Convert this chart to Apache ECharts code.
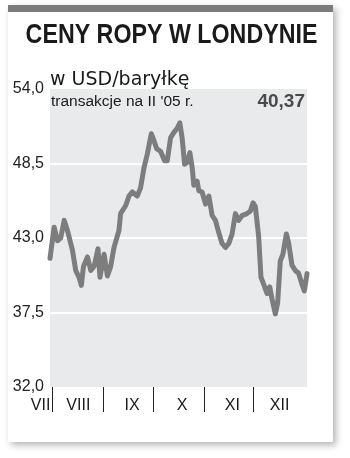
<!DOCTYPE html>
<html><head><meta charset="utf-8">
<script src="https://cdn.jsdelivr.net/npm/echarts@6/dist/echarts.min.js"></script>
<style>html,body{margin:0;padding:0;background:#fff}#c{width:350px;height:458px}</style>
</head><body><div id="c"></div>
<script>
// days counted from 1 August (month starts below)
const days = [-1.5, 1.0, 3.0, 5.0, 7.1, 9.1, 12.1, 14.1, 16.1, 17.5, 18.8, 21.2, 23.2, 25.2, 27.6, 28.8, 31.3, 33.3, 35.3, 37.3,
  40.3, 41.3, 44.4, 46.4, 48.4, 51.4, 53.4, 55.5, 57.5, 59.9, 61.5, 63.1, 65.5, 68.0, 69.6, 71.6, 73.6, 75.6, 77.2, 78.6,
  80.1, 81.7, 83.3, 84.7, 85.7, 87.7, 88.7, 90.7, 92.8, 94.8, 96.8, 98.8, 100.8, 102.8, 104.9, 106.9, 108.9, 110.9, 112.9, 114.9,
  117.9, 120.0, 121.6, 123.0, 125.0, 126.4, 128.0, 130.1, 131.7, 133.1, 135.1, 136.5, 138.1, 139.7, 141.8, 143.2, 145.2, 147.2, 149.2, 151.2,
  152.7, 154.3];
const prices = [41.5, 43.8, 42.8, 43.0, 44.3, 43.55, 42.1, 40.6, 40.1, 39.5, 40.9, 41.6, 40.6, 40.9, 42.2, 40.1, 41.8, 40.2, 40.9, 42.3,
  43.55, 44.8, 45.4, 46.1, 46.4, 46.1, 46.7, 48.2, 49.2, 50.7, 50.2, 49.6, 49.4, 48.7, 48.7, 50.4, 50.8, 51.1, 51.5, 50.4,
  48.45, 48.6, 49.3, 48.2, 46.9, 47.2, 46.5, 46.4, 45.5, 46.1, 44.65, 44.3, 43.4, 42.6, 42.3, 42.6, 43.3, 44.8, 44.3, 44.65,
  44.8, 45.0, 45.6, 45.3, 43.1, 40.1, 39.6, 38.9, 39.4, 38.5, 37.4, 38.2, 41.3, 41.8, 43.3, 42.6, 41.0, 40.6, 40.4, 39.6,
  39.1, 40.37];
const monthStarts = [0, 31, 61, 92, 122];
const monthLabels = ['VII', 'VIII', 'IX', 'X', 'XI', 'XII'];
const monthLabelAt = [-7.2, 15.7, 48.3, 78.5, 109, 137.7];
const yMin = 32.0, yMax = 54.0, yStep = 5.5;
const titleText = 'CENY ROPY W LONDYNIE';
const unitText = 'w USD/baryłkę';
const noteText = "transakcje na II '05 r.";
const lastValueText = '40,37';

const chart = echarts.init(document.getElementById('c'), null, {renderer: 'canvas'});
chart.setOption({
  animation: false,
  backgroundColor: '#ffffff',
  grid: {left: 50, right: 43, top: 89, bottom: 71, show: true, backgroundColor: '#e9eaeb', borderWidth: 0},
  xAxis: {
    type: 'value', min: -1.5, max: 154.3,
    axisLine: {show: false}, splitLine: {show: false}, axisLabel: {show: false},
    axisTick: {show: true, customValues: monthStarts, length: 25, lineStyle: {color: '#222', width: 1}}
  },
  yAxis: {
    type: 'value', min: yMin, max: yMax, interval: yStep,
    axisLine: {show: false}, axisTick: {show: false},
    splitLine: {show: true, showMinLine: false, showMaxLine: false, lineStyle: {color: '#ffffff', width: 2}},
    axisLabel: {
      margin: 6, fontSize: 16, color: '#222', fontFamily: 'Liberation Sans, Arial, sans-serif',
      formatter: v => v.toFixed(1).replace('.', ',')
    }
  },
  series: [{
    type: 'line', showSymbol: false, z: 5,
    data: days.map((d, i) => [d, prices[i]]),
    lineStyle: {color: '#7d7d7d', width: 5, join: 'round', cap: 'round'}
  }]
});

const labelGraphics = monthLabels.map((t, i) => ({
  type: 'text', z: 10,
  x: chart.convertToPixel({xAxisIndex: 0}, monthLabelAt[i]), y: 406,
  style: {text: t, fill: '#1a1a1a', font: '16px "Liberation Sans", Arial, sans-serif', textAlign: 'center', textVerticalAlign: 'middle'}
}));

chart.setOption({
  graphic: [
    {type: 'rect', z: -10, shape: {x: 8, y: 5, width: 325, height: 437},
      style: {fill: '#ffffff', shadowBlur: 7, shadowOffsetX: 3, shadowOffsetY: 3, shadowColor: 'rgba(0,0,0,0.3)'}},
    {type: 'rect', z: -9, shape: {x: 8, y: 5, width: 325, height: 7}, style: {fill: '#7c7c7c'}},
    {type: 'text', z: 10, x: 171.5, y: 35, scaleX: 0.83,
      style: {text: titleText, fill: '#1a1a1a', font: 'bold 28px "Liberation Sans", Arial, sans-serif', textAlign: 'center', textVerticalAlign: 'middle'}},
    {type: 'text', z: 10, x: 50, y: 80,
      style: {text: unitText, fill: '#1a1a1a', font: '19px "DejaVu Sans", sans-serif', textAlign: 'left', textVerticalAlign: 'middle'}},
    {type: 'text', z: 10, x: 51, y: 102,
      style: {text: noteText, fill: '#1a1a1a', font: '15.5px "Liberation Sans", Arial, sans-serif', textAlign: 'left', textVerticalAlign: 'middle'}},
    {type: 'text', z: 10, x: 305, y: 102,
      style: {text: lastValueText, fill: '#4a4a4a', font: 'bold 19px "Liberation Sans", Arial, sans-serif', textAlign: 'right', textVerticalAlign: 'middle'}}
  ].concat(labelGraphics)
});
</script></body></html>
